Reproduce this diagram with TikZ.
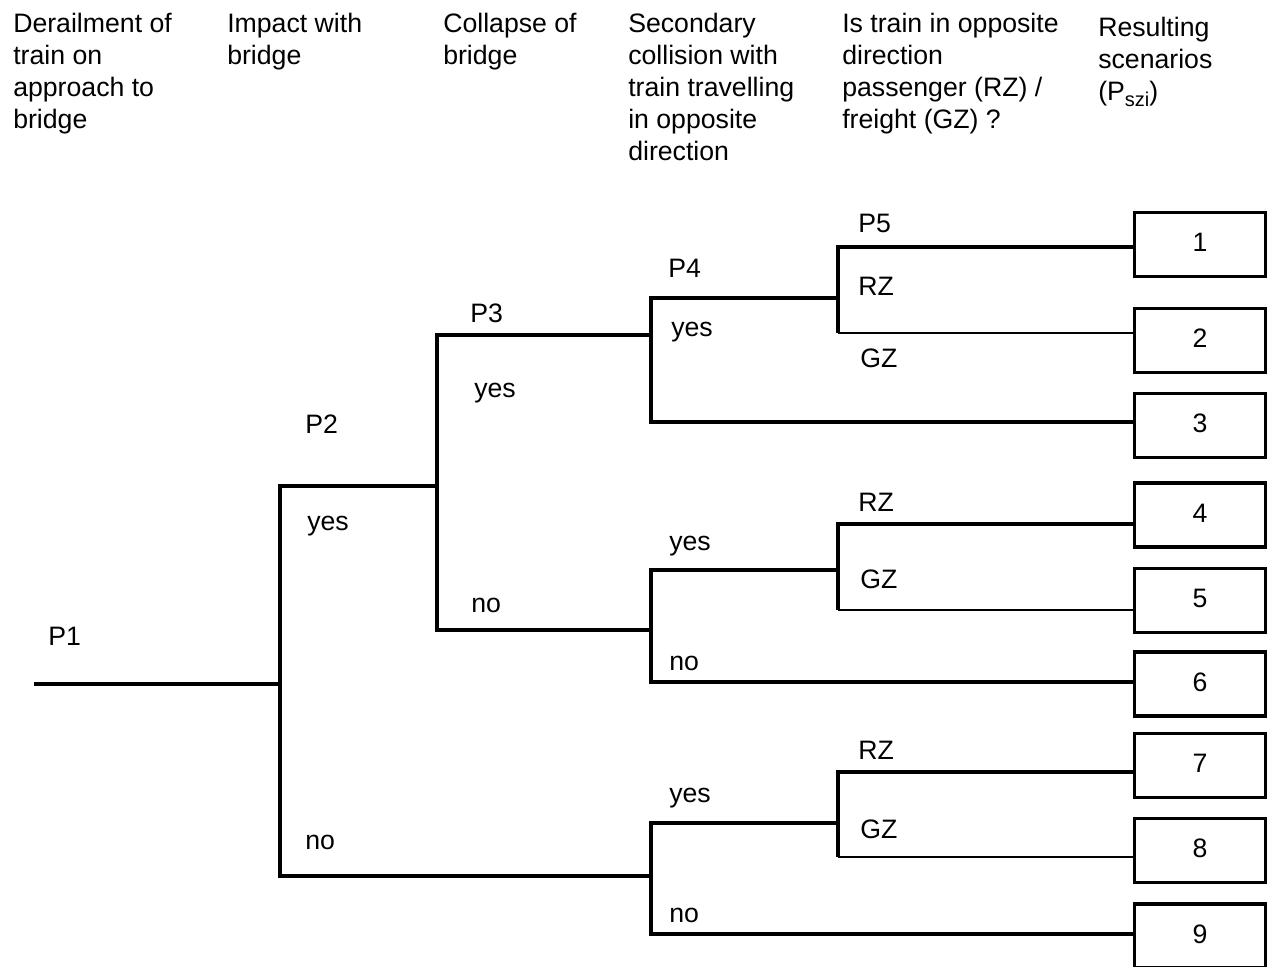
\documentclass[tikz,border=0pt]{standalone}
\usepackage{fontspec}
\setmainfont{Liberation Sans}
\begin{document}
\begin{tikzpicture}[x=0.75pt,y=-0.75pt,
  txt/.style={anchor=base west, inner sep=0pt, font=\fontsize{20}{24}\selectfont},
  head/.style={txt, align=left},
  scen/.style={draw, line width=2.6pt, minimum width=98pt, minimum height=48pt,
    inner sep=0pt, text depth=3pt, font=\fontsize{20}{24}\selectfont},
  branch/.style={line width=2.6pt, line join=miter},
  thinbranch/.style={line width=2.1pt}]
\useasboundingbox (0,0) rectangle (1271,967);

% headers (anchor at baseline of the last line)
\node[head] (h1) at (13,128) {Derailment of\\train on\\approach to\\bridge};
\node[head] (h2) at (227,64) {Impact with\\bridge};
\node[head] (h3) at (443,64) {Collapse of\\bridge};
\node[head] (h4) at (628,160) {Secondary\\collision with\\train travelling\\in opposite\\direction};
\node[head] (h5) at (842,128) {Is train in opposite\\direction\\passenger (RZ) /\\freight (GZ) ?};
\node[head] (h6) at (1098,100) {Resulting\\scenarios\\(P\raisebox{-5pt}{\fontsize{15}{15}\selectfont szi})};

% scenario boxes
\node[scen] (b1) at (1200,244.5) {1};
\node[scen] (b2) at (1200,340.5) {2};
\node[scen] (b3) at (1200,425.5) {3};
\node[scen] (b4) at (1200,515) {4};
\node[scen] (b5) at (1200,600.5) {5};
\node[scen] (b6) at (1200,684) {6};
\node[scen] (b7) at (1200,765.5) {7};
\node[scen] (b8) at (1200,850.5) {8};
\node[scen] (b9) at (1200,936) {9};

% junctions
\coordinate (s0) at (34,684);
\coordinate (c1) at (280,684); \coordinate (c1y) at (280,486); \coordinate (c1n) at (280,876);
\coordinate (c2) at (437,486); \coordinate (c2y) at (437,335); \coordinate (c2n) at (437,630);
\coordinate (c3) at (651,335); \coordinate (c3y) at (651,298); \coordinate (c3n) at (651,422);
\coordinate (c4) at (838,298); \coordinate (c4y) at (838,247); \coordinate (c4n) at (838,333);
\coordinate (c5) at (651,630); \coordinate (c5y) at (651,570); \coordinate (c5n) at (651,682);
\coordinate (c6) at (838,570); \coordinate (c6y) at (838,524); \coordinate (c6n) at (838,610);
\coordinate (c7) at (651,876); \coordinate (c7y) at (651,823); \coordinate (c7n) at (651,934);
\coordinate (c8) at (838,823); \coordinate (c8y) at (838,772); \coordinate (c8n) at (838,857);

% branches
\draw[branch] (s0) -- (c1);
\draw[branch] (c2) -- (c1y) -- (c1n) -- (c7);
\draw[branch] (c3) -- (c2y) -- (c2n) -- (c5);
\draw[branch] (c4) -- (c3y) -- (c3n) -- (c3n -| b3.west);
\draw[branch] (c4y -| b1.west) -- (c4y) -- (c4n);
\draw[thinbranch] (c4n) -- (c4n -| b2.west);
\draw[branch] (c6) -- (c5y) -- (c5n) -- (c5n -| b6.west);
\draw[branch] (c6y -| b4.west) -- (c6y) -- (c6n);
\draw[thinbranch] (c6n) -- (c6n -| b5.west);
\draw[branch] (c8) -- (c7y) -- (c7n) -- (c7n -| b9.west);
\draw[branch] (c8y -| b7.west) -- (c8y) -- (c8n);
\draw[thinbranch] (c8n) -- (c8n -| b8.west);

% labels
\node[txt] (p1) at (48,645) {P1};
\node[txt] (p2) at (305,433) {P2};
\node[txt] (y1) at (307,530) {yes};
\node[txt] (n1) at (305,849) {no};
\node[txt] (p3) at (470,322) {P3};
\node[txt] (y2) at (474,397) {yes};
\node[txt] (n2) at (471,612) {no};
\node[txt] (p4) at (668,277) {P4};
\node[txt] (y3) at (671,336) {yes};
\node[txt] (p5) at (858,232) {P5};
\node[txt] (r1) at (858,295) {RZ};
\node[txt] (g1) at (860,367) {GZ};
\node[txt] (y4) at (669,550) {yes};
\node[txt] (r2) at (858,511) {RZ};
\node[txt] (g2) at (860,588) {GZ};
\node[txt] (n3) at (669,670) {no};
\node[txt] (y5) at (669,802) {yes};
\node[txt] (r3) at (858,759) {RZ};
\node[txt] (g3) at (860,838) {GZ};
\node[txt] (n4) at (669,922) {no};
\end{tikzpicture}
\end{document}
